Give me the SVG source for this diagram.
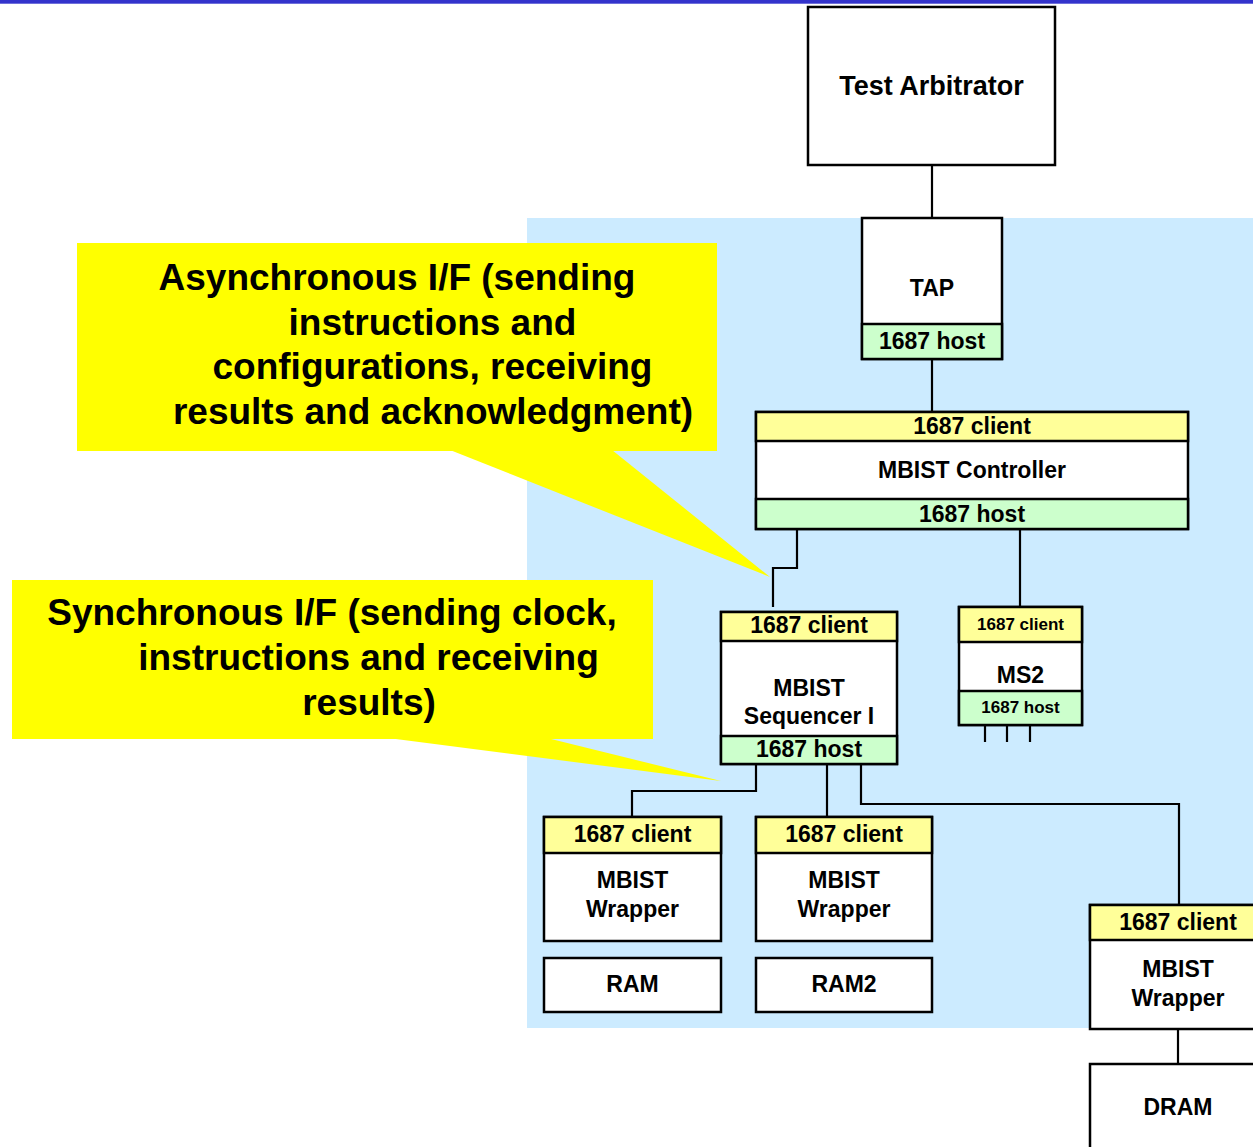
<svg xmlns="http://www.w3.org/2000/svg" width="1253" height="1147" viewBox="0 0 1253 1147">
<style>
text{font-family:"Liberation Sans",Arial,sans-serif;font-weight:bold;fill:#000}
.t{font-size:23px;text-anchor:middle}
.s{font-size:17px;text-anchor:middle}
.big{font-size:37px;text-anchor:middle}
.box{fill:#fff;stroke:#000;stroke-width:2.5}
.cl{fill:#FFFF99;stroke:#000;stroke-width:2.5}
.hs{fill:#CCFFCC;stroke:#000;stroke-width:2.5}
.ln{fill:none;stroke:#000;stroke-width:2.2}
.co{fill:#FFFF00}
</style>
<rect x="0" y="0" width="1253" height="3.7" fill="#3333CC"/>
<rect x="527" y="218" width="726" height="810" fill="#CCEBFF"/>

<g id="connectors">
<path class="ln" d="M932 165V218"/>
<path class="ln" d="M932 359V412"/>
<path class="ln" d="M797 529V568H773V607"/>
<path class="ln" d="M1020 529V607"/>
<path class="ln" d="M985 725V742M1007 725V742M1030 725V742"/>
<path class="ln" d="M756 764V791H632V817"/>
<path class="ln" d="M827 764V817"/>
<path class="ln" d="M861 764V804H1179V905"/>
<path class="ln" d="M1178 1029V1064"/>
</g>

<g id="test-arbitrator">
<rect class="box" x="808" y="7" width="247" height="158"/>
<text class="t" x="931.5" y="95" style="font-size:27px">Test Arbitrator</text>
</g>

<g id="tap">
<rect class="box" x="862" y="218" width="140" height="141"/>
<rect class="hs" x="862" y="324" width="140" height="35"/>
<text class="t" x="932" y="296">TAP</text>
<text class="t" x="932" y="349">1687 host</text>
</g>

<g id="mbist-controller">
<rect class="box" x="756" y="412" width="432" height="117"/>
<rect class="cl" x="756" y="412" width="432" height="29"/>
<rect class="hs" x="756" y="499" width="432" height="30"/>
<text class="t" x="972" y="434">1687 client</text>
<text class="t" x="972" y="478">MBIST Controller</text>
<text class="t" x="972" y="522">1687 host</text>
</g>

<g id="mbist-sequencer">
<rect class="box" x="721" y="612" width="176" height="152"/>
<rect class="cl" x="721" y="612" width="176" height="29"/>
<rect class="hs" x="721" y="736" width="176" height="28"/>
<text class="t" x="809" y="633">1687 client</text>
<text class="t" x="809" y="696">MBIST</text>
<text class="t" x="809" y="724">Sequencer I</text>
<text class="t" x="809" y="757">1687 host</text>
</g>

<g id="ms2">
<rect class="box" x="959" y="607" width="123" height="118"/>
<rect class="cl" x="959" y="607" width="123" height="35"/>
<rect class="hs" x="959" y="691" width="123" height="34"/>
<text class="s" x="1020.5" y="630">1687 client</text>
<text class="t" x="1020.5" y="683">MS2</text>
<text class="s" x="1020.5" y="713">1687 host</text>
</g>

<g id="wrapper1">
<rect class="box" x="544" y="817" width="177" height="124"/>
<rect class="cl" x="544" y="817" width="177" height="36"/>
<text class="t" x="632.5" y="842">1687 client</text>
<text class="t" x="632.5" y="888">MBIST</text>
<text class="t" x="632.5" y="917">Wrapper</text>
</g>

<g id="wrapper2">
<rect class="box" x="756" y="817" width="176" height="124"/>
<rect class="cl" x="756" y="817" width="176" height="36"/>
<text class="t" x="844" y="842">1687 client</text>
<text class="t" x="844" y="888">MBIST</text>
<text class="t" x="844" y="917">Wrapper</text>
</g>

<g id="ram">
<rect class="box" x="544" y="958" width="177" height="54"/>
<text class="t" x="632.5" y="992">RAM</text>
</g>

<g id="ram2">
<rect class="box" x="756" y="958" width="176" height="54"/>
<text class="t" x="844" y="992">RAM2</text>
</g>

<g id="wrapper3">
<rect class="box" x="1090" y="905" width="180" height="124"/>
<rect class="cl" x="1090" y="905" width="180" height="35"/>
<text class="t" x="1178" y="930">1687 client</text>
<text class="t" x="1178" y="977">MBIST</text>
<text class="t" x="1178" y="1006">Wrapper</text>
</g>

<g id="dram">
<rect class="box" x="1090" y="1064" width="180" height="100"/>
<text class="t" x="1178" y="1115">DRAM</text>
</g>

<g id="callout-async">
<rect class="co" x="77" y="243" width="640" height="208"/>
<polygon class="co" points="450,450 770,577 612,450"/>
<text class="big" x="397" y="290">Asynchronous I/F (sending</text>
<text class="big" x="432.5" y="335">instructions and</text>
<text class="big" x="432.5" y="379">configurations, receiving</text>
<text class="big" x="433" y="424">results and acknowledgment)</text>
</g>

<g id="callout-sync">
<rect class="co" x="12" y="580" width="641" height="159"/>
<polygon class="co" points="388,738 721,781 547,738"/>
<text class="big" x="332" y="625">Synchronous I/F (sending clock,</text>
<text class="big" x="368.5" y="670">instructions and receiving</text>
<text class="big" x="369" y="715">results)</text>
</g>
</svg>
